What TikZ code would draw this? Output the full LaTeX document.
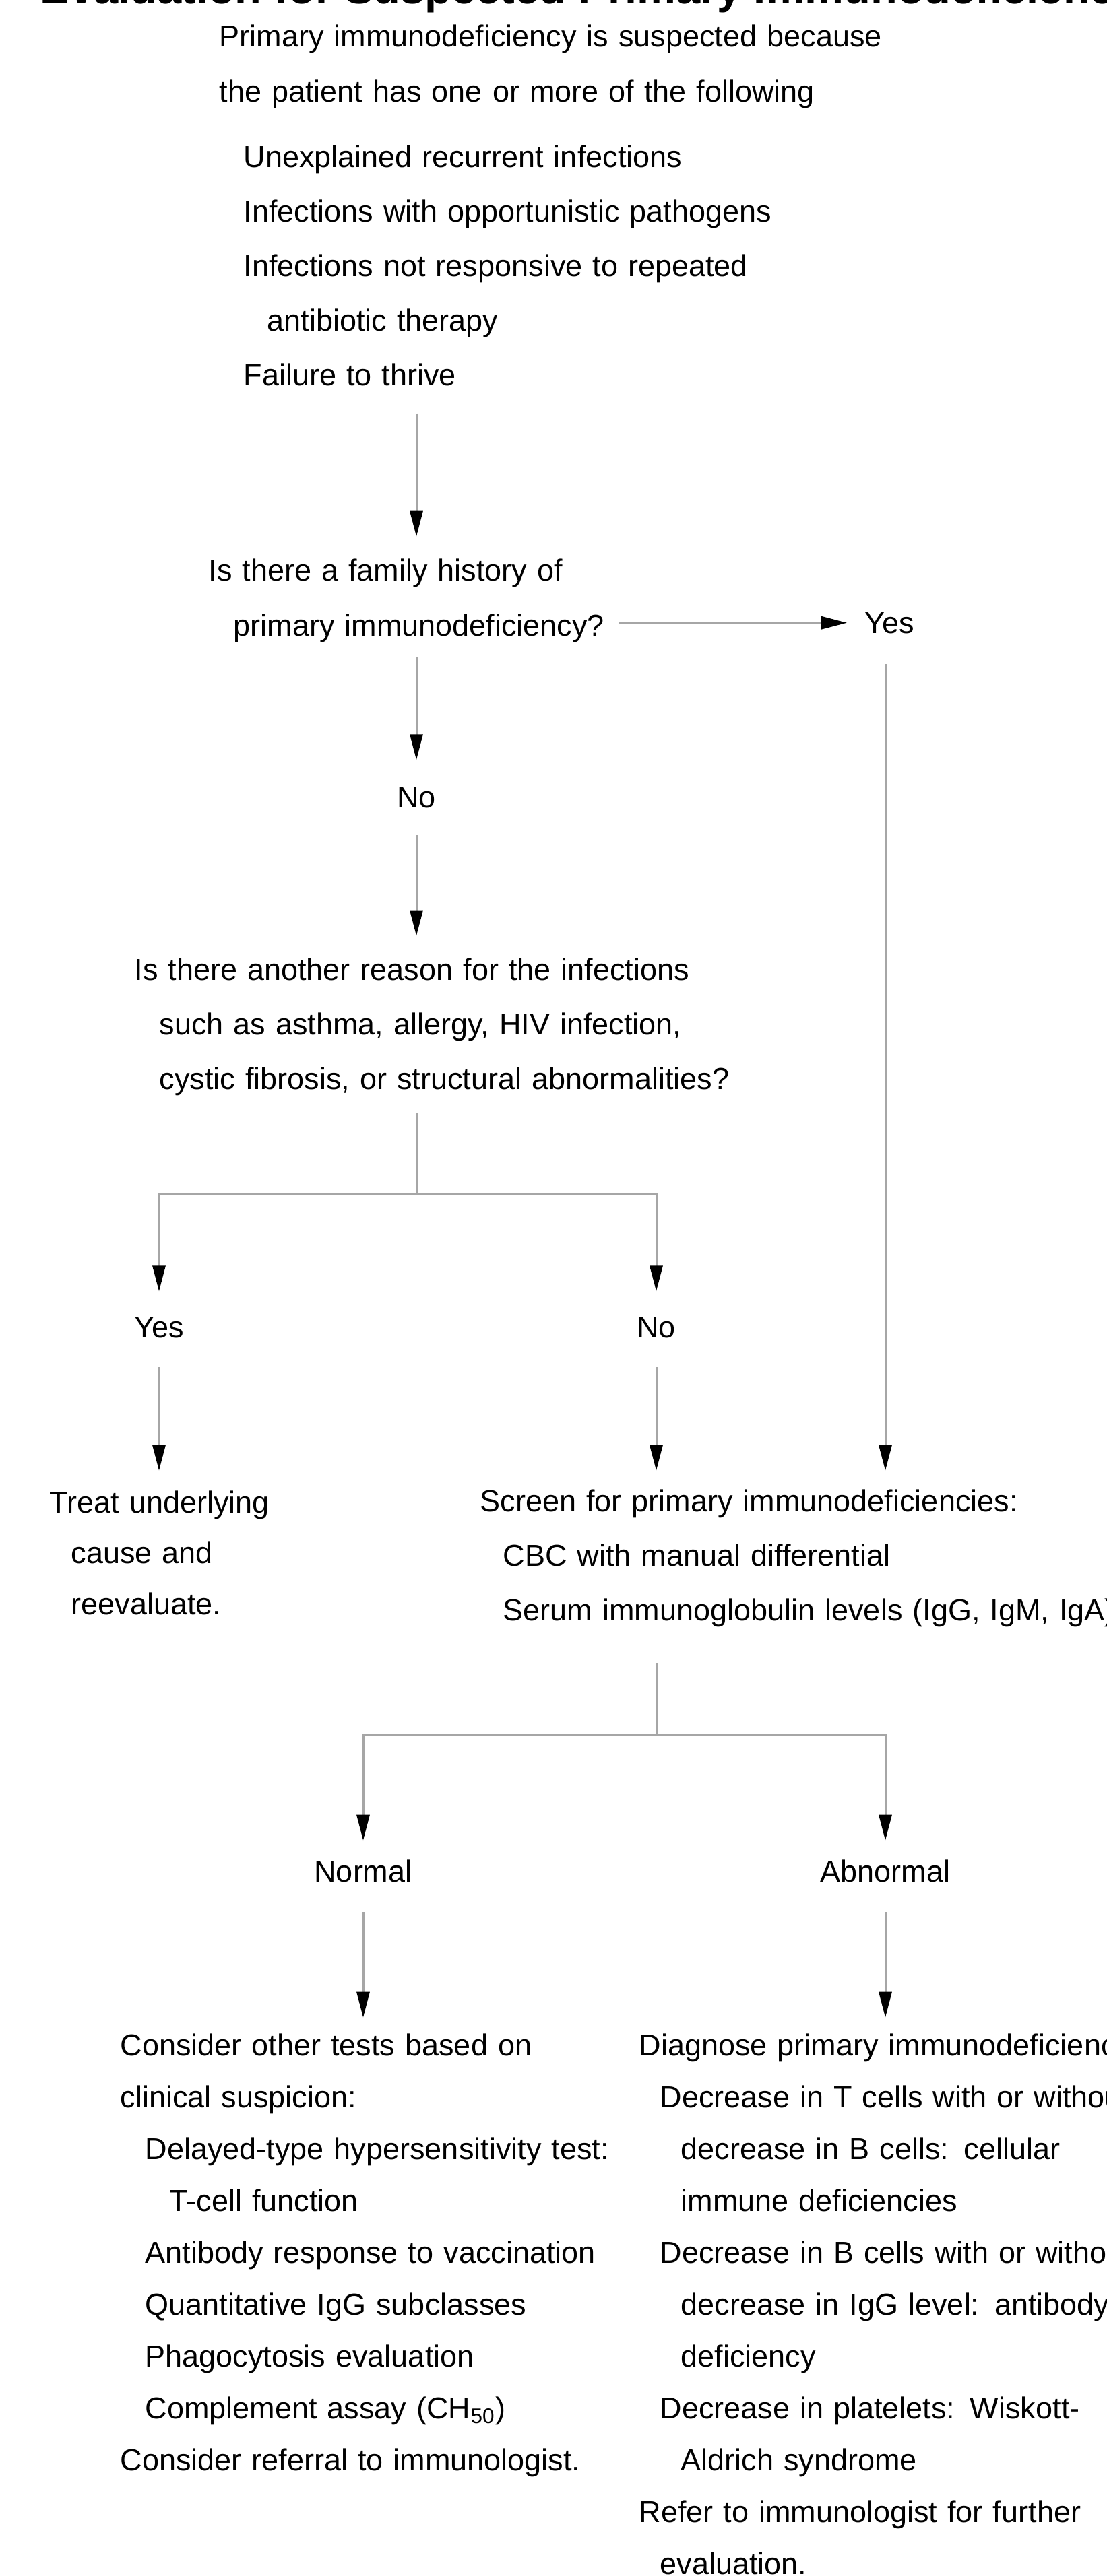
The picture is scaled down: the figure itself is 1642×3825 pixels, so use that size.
\documentclass[tikz,border=0pt]{standalone}
\usepackage{fontspec}
\setmainfont{Liberation Sans}
\usetikzlibrary{arrows.meta}

\begin{document}
\begin{tikzpicture}[x=0.01cm, y=-0.01cm]
  \tikzset{txt/.style = {anchor=base west, inner sep=0pt, align=left, text width=#1, font=\fontsize{12.8}{23.05}\selectfont}}
  \tikzset{txtb/.style = {txt=#1, font=\fontsize{12.8}{21.9}\selectfont}}
  \tikzset{lbl/.style = {anchor=base, inner sep=0pt, font=\fontsize{12.8}{15}\selectfont}}
  \tikzset{wire/.style = {draw=black!35, line width=0.03cm}}
  \tikzset{arr/.style = {wire, -{Triangle[length=0.38cm,width=0.19cm,color=black]}}}

  \clip (0,0) rectangle (1642,3825);
  \fill[white] (0,0) rectangle (1642,3825);

  \node[anchor=base west, inner sep=0pt, font=\bfseries\fontsize{18.5}{22}\selectfont] (title) at (59,6) {Evaluation for Suspected Primary Immunodeficiency};

	\node[txt=10cm] (suspect) at (325,70) {Primary immunodeficiency is suspected because\\
	  the patient has one or more of the following\\[0.16cm]
	  \hspace*{0.36cm}Unexplained recurrent infections\\
	  \hspace*{0.36cm}Infections with opportunistic pathogens\\
	  \hspace*{0.36cm}Infections not responsive to repeated\\
	  \hspace*{0.71cm}antibiotic therapy\\
	  \hspace*{0.36cm}Failure to thrive};

	\node[txt=5.9cm] (famhist) at (309,863) {Is there a family history of\\
	  \hspace*{0.37cm}primary immunodeficiency?};
	\node[lbl, anchor=base west] (yes1) at (1283,940) {Yes};
	\node[lbl] (no1) at (618,1199) {No};

	\node[txt=9.5cm] (reason) at (199,1455) {Is there another reason for the infections\\
	  \hspace*{0.37cm}such as asthma, allergy, HIV infection,\\
	  \hspace*{0.37cm}cystic fibrosis, or structural abnormalities?};

		\node[lbl] (yes2) at (236,1986) {Yes};
		\node[lbl] (no2) at (974,1986) {No};

		\node[txtb=3.4cm, font=\fontsize{12.8}{21.6}\selectfont] (treat) at (73,2246) {Treat underlying\\
		  \hspace*{0.32cm}cause and\\
		  \hspace*{0.32cm}reevaluate.};

		\node[txt=10cm] (screen) at (712,2244) {Screen for primary immunodeficiencies:\\
		  \hspace*{0.34cm}CBC with manual differential\\
		  \hspace*{0.34cm}Serum immunoglobulin levels (IgG, IgM, IgA)};

			\node[lbl] (normal) at (539,2794) {Normal};
			\node[lbl] (abnormal) at (1314,2794) {Abnormal};

			\node[txtb=7.5cm] (consider) at (178,3052) {Consider other tests based on\\
			  clinical suspicion:\\
			  \hspace*{0.37cm}Delayed-type hypersensitivity test:\\
			  \hspace*{0.73cm}T-cell function\\
			  \hspace*{0.37cm}Antibody response to vaccination\\
			  \hspace*{0.37cm}Quantitative IgG subclasses\\
			  \hspace*{0.37cm}Phagocytosis evaluation\\
			  \hspace*{0.37cm}Complement assay (CH\textsubscript{50})\\
			  Consider referral to immunologist.};

			\node[txtb=8cm] (diagnose) at (948,3052) {Diagnose primary immunodeficiency\\
			  \hspace*{0.31cm}Decrease in T cells with or without\\
			  \hspace*{0.62cm}decrease in B cells: cellular\\
			  \hspace*{0.62cm}immune deficiencies\\
			  \hspace*{0.31cm}Decrease in B cells with or without\\
			  \hspace*{0.62cm}decrease in IgG level: antibody\\
			  \hspace*{0.62cm}deficiency\\
			  \hspace*{0.31cm}Decrease in platelets: Wiskott-\\
			  \hspace*{0.62cm}Aldrich syndrome\\
			  Refer to immunologist for further\\
			  \hspace*{0.31cm}evaluation.};

  \coordinate (trunk) at (618,0);
  \coordinate (rightcol) at (1314,0);
  \coordinate (fork1) at (618,1772);
  \coordinate (fork2) at (974,2576);

    \foreach \from/\to/\col/\sa/\sb in {suspect/famhist/trunk/0.40/0.33,famhist/no1/trunk/0.21/0.39,
    no1/reason/trunk/0.40/0.32,yes2/treat/yes2/0.43/0.29,no2/screen/no2/0.43/0.27,
    yes1/screen/rightcol/0.45/0.27,normal/consider/normal/0.44/0.23,abnormal/diagnose/abnormal/0.44/0.23
    }
    \draw[arr, shorten <=\sa cm, shorten >=\sb cm] (\from.south -| \col) -- (\to.north -| \col);

  \draw[arr, shorten <=0.17cm, shorten >=0.26cm] (famhist.east |- yes1) -- (yes1.west);

  \draw[wire, shorten <=0.26cm] (reason.south -| trunk) -- (fork1);
  \draw[arr, shorten >=0.37cm] (fork1) -| (yes2.north);
  \draw[arr, shorten >=0.37cm] (fork1) -| (no2.north);

  \draw[wire, shorten <=0.54cm] (screen.south -| fork2) -- (fork2);
  \draw[arr, shorten >=0.28cm] (fork2) -| (normal.north);
  \draw[arr, shorten >=0.28cm] (fork2) -| (abnormal.north);

\end{tikzpicture}
\end{document}
